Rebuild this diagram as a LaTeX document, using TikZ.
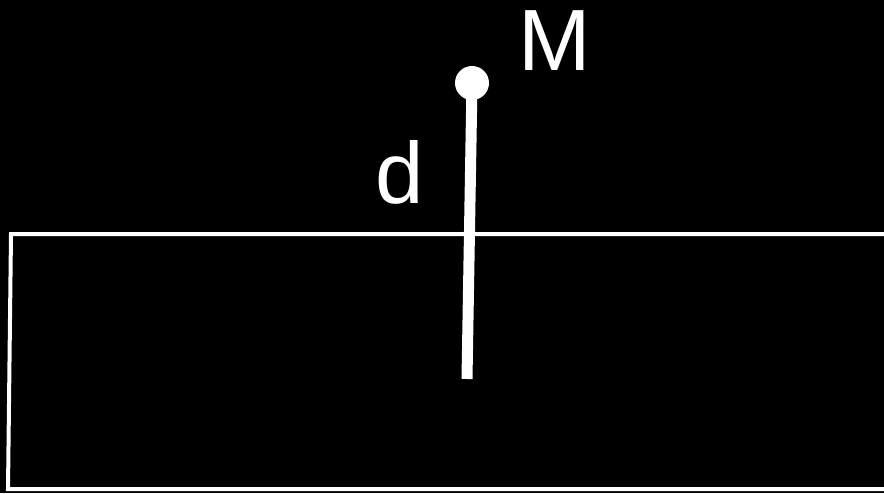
\documentclass[tikz,border=0pt]{standalone}
\usepackage{fontspec}
\setmainfont{Liberation Sans}
\begin{document}
\begin{tikzpicture}[x=1pt,y=-1pt,
  edge/.style={draw=white,line width=4pt,line join=miter},
  stem/.style={draw=white,line width=11pt},
  lbl/.style={text=white,font=\fontsize{87}{90}\selectfont,inner sep=0pt,anchor=base west},
  pt/.style={circle,fill=white,minimum size=34pt,inner sep=0pt}]
\fill[black] (0,0) rectangle (884,493);
\useasboundingbox (0,0) rectangle (884,493);
\begin{scope}
\clip (0,0) rectangle (884,493);
\draw[edge] (900,234) -- (11,234) -- (8,489) -- (900,489);
\end{scope}
\node[pt] (M) at (472,83) {};
\coordinate (foot) at (467,379);
\draw[stem] (M.center) -- (foot);
\node[lbl] (Mlabel) at (518,70) {M};
\node[lbl] (dlabel) at (375,203) {d};
\end{tikzpicture}
\end{document}
